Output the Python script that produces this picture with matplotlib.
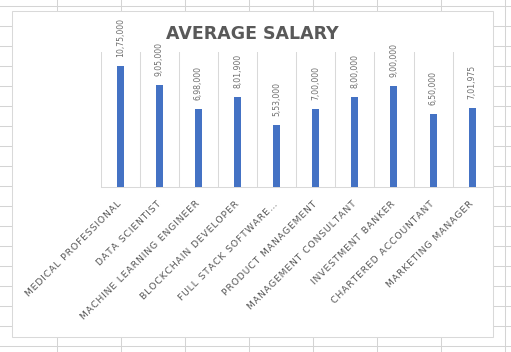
import matplotlib
matplotlib.use("Agg")
import matplotlib.pyplot as plt
from matplotlib.patches import Rectangle
import numpy as np

jobs = ["MEDICAL PROFESSIONAL", "DATA SCIENTIST", "MACHINE LEARNING ENGINEER",
        "BLOCKCHAIN DEVELOPER", "FULL STACK SOFTWARE\u2026", "PRODUCT MANAGEMENT",
        "MANAGEMENT CONSULTANT", "INVESTMENT BANKER", "CHARTERED ACCOUNTANT",
        "MARKETING MANAGER"]
salaries = [1075000, 905000, 698000, 801900, 553000, 700000, 800000, 900000, 650000, 701975]
title = "AVERAGE SALARY"


def indian_fmt(n):
    # 10,75,000 style grouping
    s = str(int(n))
    if len(s) <= 3:
        return s
    head, tail = s[:-3], s[-3:]
    groups = []
    while len(head) > 2:
        groups.insert(0, head[-2:])
        head = head[:-2]
    if head:
        groups.insert(0, head)
    return ",".join(groups) + "," + tail


def spaced(t):
    # excel draws these labels with a little letter spacing
    return "\u200a".join(t)


W, H = 511, 352
fig = plt.figure(figsize=(W / 100, H / 100), dpi=100)

# spreadsheet cells behind the chart
bg = fig.add_axes([0, 0, 1, 1])
bg.set_xlim(0, W)
bg.set_ylim(H, 0)
bg.axis("off")
for y in np.arange(6, H, 20):
    bg.axhline(y, color="#d4d4d4", lw=0.75)
for x in np.arange(57, W, 64):
    bg.axvline(x, color="#d4d4d4", lw=0.75)
bg.add_patch(Rectangle((12.3, 11.3), 480.4, 325.4, facecolor="white",
                       edgecolor="#d9d9d9", lw=0.75, zorder=3))

# plot area
left, right, top, bottom = 100.7, 491.7, 52.3, 187.3
ax = fig.add_axes([left / W, 1 - bottom / H, (right - left) / W, (bottom - top) / H])
ax.patch.set_alpha(0)
x = np.arange(len(jobs))
ax.bar(x, salaries, width=0.18, color="#4472C4", zorder=3)
ax.set_xlim(-0.5, len(jobs) - 0.5)
ax.set_ylim(0, 1200000)
for b in np.arange(-0.5, len(jobs)):
    ax.axvline(b, color="#d9d9d9", lw=0.75, zorder=1)
for s in ["top", "right", "left"]:
    ax.spines[s].set_visible(False)
ax.spines["bottom"].set_color("#d9d9d9")
ax.spines["bottom"].set_linewidth(0.75)
ax.set_yticks([])
ax.set_xticks(x)
ax.set_xticklabels([spaced(j) for j in jobs], rotation=45, ha="right", va="center",
                   rotation_mode="anchor", fontsize=6.7, color="#595959",
                   family="DejaVu Sans")
ax.tick_params(axis="x", length=0, pad=11)

for xi, v in zip(x, salaries):
    ax.annotate(indian_fmt(v), (xi, v), xytext=(0, 6.5), textcoords="offset points",
                rotation=90, ha="center", va="bottom", fontsize=5.6,
                color="#6e6e6e", family="DejaVu Sans", annotation_clip=False)

fig.text(252 / W, 1 - 33.7 / H, title, ha="center", va="center", fontsize=12.5,
         fontweight="bold", color="#595959", family="DejaVu Sans")

fig.savefig("out.png", dpi=100)
